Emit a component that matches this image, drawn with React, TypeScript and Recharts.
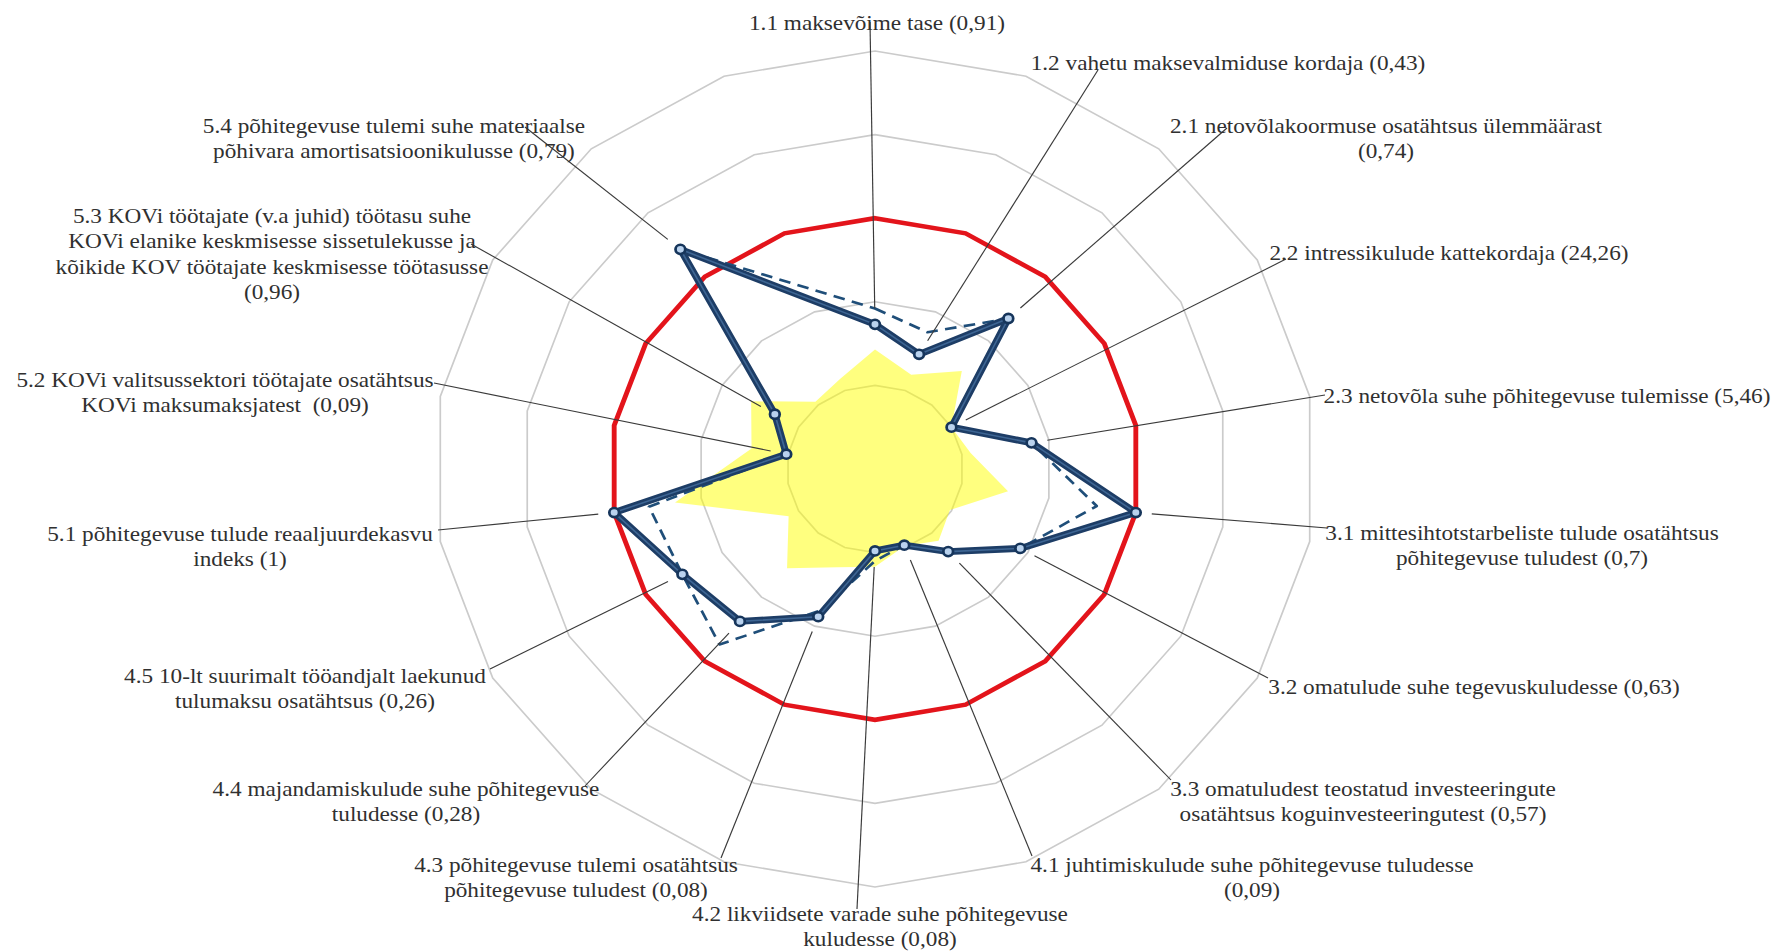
import React from 'react';
import { RadarChart, Radar, PolarGrid, PolarAngleAxis, PolarRadiusAxis } from 'recharts';

// ---- data ----
const axisKeys = ['1.1', '1.2', '2.1', '2.2', '2.3', '3.1', '3.2', '3.3', '4.1', '4.2', '4.3', '4.4', '4.5', '5.1', '5.2', '5.3', '5.4', '-'];
const mainSeries: (number | null)[] = [1.73, 1.46, 2.35, 1.0, 1.8, 3.0, 1.9, 1.29, 0.97, 0.98, 1.88, 2.38, 2.52, 3.0, 1.02, 1.31, 3.43, null];
const compareSeries: (number | null)[] = [1.92, 1.74, 2.35, 1.0, 1.8, 2.55, 1.9, 1.29, 0.97, 1.1, 1.8, 2.74, 2.52, 2.6, 1.02, 1.31, 3.43, null];
const minSeries: number[] = [1.43, 1.2, 1.53, 1.0, 1.1, 1.53, 0.98, 1.12, 0.98, 1.17, 1.25, 1.55, 1.13, 2.3, 1.42, 1.62, 1.05, 1.15];
const targetSeries: number[] = [3, 3, 3, 3, 3, 3, 3, 3, 3, 3, 3, 3, 3, 3, 3, 3, 3, 3];
const radiusTicks = [0, 1, 2, 3, 4, 5];

const labelLines: string[][] = [
  ['1.1 maksevõime tase (0,91)'],
  ['1.2 vahetu maksevalmiduse kordaja (0,43)'],
  ['2.1 netovõlakoormuse osatähtsus ülemmäärast', '(0,74)'],
  ['2.2 intressikulude kattekordaja (24,26)'],
  ['2.3 netovõla suhe põhitegevuse tulemisse (5,46)'],
  ['3.1 mittesihtotstarbeliste tulude osatähtsus', 'põhitegevuse tuludest (0,7)'],
  ['3.2 omatulude suhe tegevuskuludesse (0,63)'],
  ['3.3 omatuludest teostatud investeeringute', 'osatähtsus koguinvesteeringutest (0,57)'],
  ['4.1 juhtimiskulude suhe põhitegevuse tuludesse', '(0,09)'],
  ['4.2 likviidsete varade suhe põhitegevuse', 'kuludesse (0,08)'],
  ['4.3 põhitegevuse tulemi osatähtsus', 'põhitegevuse tuludest (0,08)'],
  ['4.4 majandamiskulude suhe põhitegevuse', 'tuludesse (0,28)'],
  ['4.5 10-lt suurimalt tööandjalt laekunud', 'tulumaksu osatähtsus (0,26)'],
  ['5.1 põhitegevuse tulude reaaljuurdekasvu', 'indeks (1)'],
  ['5.2 KOVi valitsussektori töötajate osatähtsus', 'KOVi maksumaksjatest  (0,09)'],
  ['5.3 KOVi töötajate (v.a juhid) töötasu suhe', 'KOVi elanike keskmisesse sissetulekusse ja', 'kõikide KOV töötajate keskmisesse töötasusse', '(0,96)'],
  ['5.4 põhitegevuse tulemi suhe materiaalse', 'põhivara amortisatsioonikulusse (0,79)'],
];

// ---- layout (label placement in final page pixels) ----
const CX = 875;
const CY = 469;
const SX = 1.056; // horizontal stretch of the whole picture
const labelCenter: [number, number][] = [
  [877, 22], [1228, 62], [1386, 125], [1449, 252], [1547, 395], [1522, 532], [1474, 686], [1363, 788],
  [1252, 864], [880, 913], [576, 864], [406, 788], [305, 675], [240, 533], [225, 379], [272, 215], [394, 125],
];
const leaderStart: [number, number][] = [
  [870, 22], [1098, 70], [1227, 128], [1286, 259], [1325, 395], [1327, 528], [1268, 678], [1171, 780],
  [1032, 856], [857, 909], [721, 858], [585, 786], [490, 669], [438, 530], [434, 383], [471, 244], [525, 127],
];
const unstretch = (x: number) => CX + (x - CX) / SX;

const data = axisKeys.map((k, i) => ({
  key: k,
  main: mainSeries[i],
  compare: compareSeries[i],
  min: minSeries[i],
  target: targetSeries[i],
}));

const LINE_H = 25.5;
const FONT = '"Liberation Serif", "Times New Roman", serif';

const linePath = (points: any[], values: (number | null)[]) => {
  const pts = (points || []).filter((p: any, i: number) => values[i] != null && Number.isFinite(p.x) && Number.isFinite(p.y));
  if (!pts.length) return '';
  return 'M' + pts.map((p: any) => `${p.x},${p.y}`).join('L') + 'Z';
};

const makeShape = (values: (number | null)[], stroke: string, width: number, dash?: string, highlight?: string) => (props: any) => {
  const d = linePath(props.points, values);
  return (
    <g>
      <path d={d} fill="none" stroke={stroke} strokeWidth={width} strokeDasharray={dash} strokeLinejoin="round" />
      {highlight ? <path d={d} fill="none" stroke={highlight} strokeWidth={1.6} strokeLinejoin="round" opacity={0.55} /> : null}
    </g>
  );
};

const renderMainDot = (props: any) => {
  const { cx, cy, index } = props;
  const v = mainSeries[index];
  if (v == null || !Number.isFinite(cx) || !Number.isFinite(cy) || index >= labelLines.length) {
    return <g key={`d-${index}`} />;
  }
  const sx = unstretch(leaderStart[index][0]);
  const sy = leaderStart[index][1];
  const dx = (sx - cx) * SX;
  const dy = sy - cy;
  const d = Math.hypot(dx, dy) || 1;
  const gap = 16;
  const ex = cx + (dx / d) * gap / SX;
  const ey = cy + (dy / d) * gap;
  const lx = unstretch(labelCenter[index][0]);
  const ly = labelCenter[index][1];
  const lines = labelLines[index];
  return (
    <g key={`d-${index}`}>
      <line x1={sx} y1={sy} x2={ex} y2={ey} stroke="#3a3a3a" strokeWidth={1.1} />
      <text
        x={lx}
        y={ly}
        textAnchor="middle"
        dominantBaseline="central"
        fontFamily={FONT}
        fontSize={22}
        fill="#303030"
        style={{ whiteSpace: 'pre' }}
      >
        {lines.map((t, j) => (
          <tspan key={j} x={lx} y={ly + j * LINE_H}>
            {t}
          </tspan>
        ))}
      </text>
      <circle cx={cx} cy={cy} r={4.6} fill="#b9d2ee" stroke="#16355b" strokeWidth={2.6} />
    </g>
  );
};

export default function App() {
  return (
    <div style={{ position: 'absolute', left: 0, top: 0, width: 1778, height: 952, background: '#ffffff', overflow: 'hidden' }}>
      <div style={{ width: 1778, height: 952, transform: `scaleX(${SX})`, transformOrigin: `${CX}px 0px` }}>
        <RadarChart
          width={1778}
          height={952}
          data={data}
          cx={CX}
          cy={CY}
          outerRadius={418}
          startAngle={90}
          endAngle={-270}
          margin={{ top: 0, right: 0, bottom: 0, left: 0 }}
        >
          <PolarGrid gridType="polygon" radialLines={false} stroke="#cbcbcb" strokeWidth={1.6} />
          <PolarAngleAxis dataKey="key" tick={false} axisLine={false} tickLine={false} />
          <PolarRadiusAxis domain={[0, 5]} ticks={radiusTicks as any} tickCount={6} tick={false} axisLine={false} tickLine={false} />
          <Radar dataKey="min" fill="#ffff00" fillOpacity={0.5} stroke="none" isAnimationActive={false} dot={false} />
          <Radar dataKey="target" fill="none" fillOpacity={0} stroke="#e3141b" strokeWidth={4.6} isAnimationActive={false} dot={false} />
          <Radar
            dataKey="compare"
            isAnimationActive={false}
            dot={false}
            shape={makeShape(compareSeries, '#1f4e79', 2.6, '11 7')}
          />
          <Radar
            dataKey="main"
            isAnimationActive={false}
            dot={renderMainDot}
            shape={makeShape(mainSeries, '#1d3d66', 6.8, undefined, '#5a86b8')}
          />
        </RadarChart>
      </div>
    </div>
  );
}
